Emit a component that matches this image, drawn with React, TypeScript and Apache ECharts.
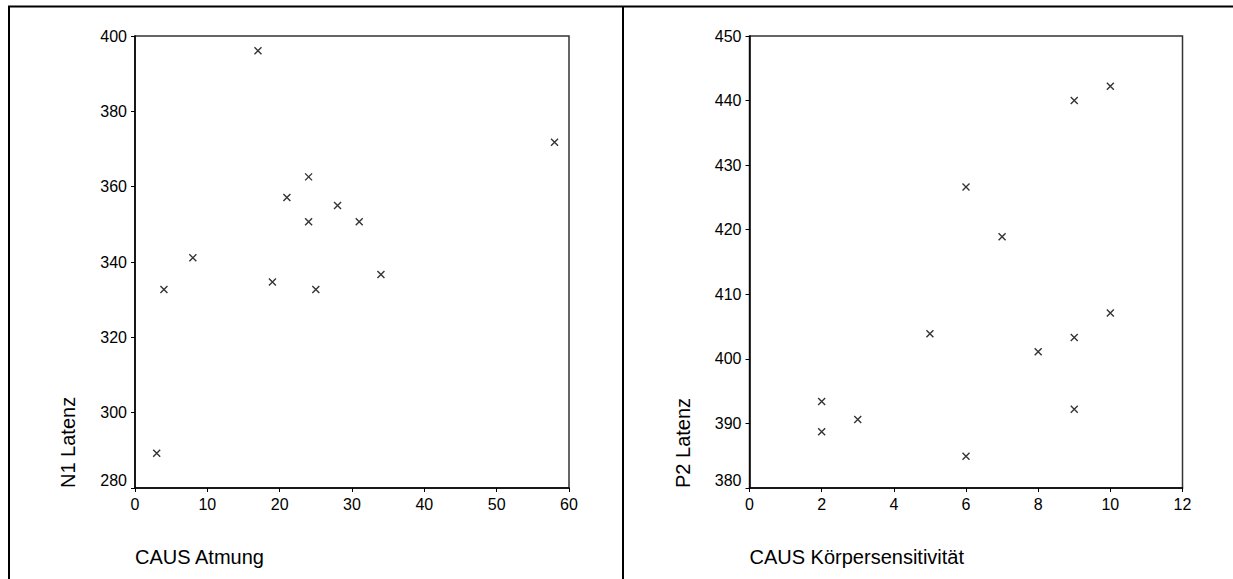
import React, { useEffect, useRef } from "react";
import * as echarts from "echarts";

// Left panel: CAUS Atmung vs N1 Latenz
const xAtmung = [17, 58, 24, 21, 28, 24, 31, 8, 34, 19, 4, 25, 3];
const yN1Latenz = [396.1, 371.8, 362.6, 357.1, 355.0, 350.7, 350.7, 341.1, 336.7, 334.7, 332.7, 332.7, 289.2];

// Right panel: CAUS Körpersensitivität vs P2 Latenz
const xKoerper = [6, 7, 9, 10, 10, 5, 9, 8, 2, 3, 2, 9, 6];
const yP2Latenz = [426.6, 418.9, 440.0, 442.2, 407.1, 403.9, 403.3, 401.1, 393.4, 390.6, 388.7, 392.2, 384.9];

const leftXTitle = "CAUS Atmung";
const leftYTitle = "N1 Latenz";
const rightXTitle = "CAUS Körpersensitivität";
const rightYTitle = "P2 Latenz";

const FONT = "'Liberation Sans', Arial, Helvetica, sans-serif";
const CROSS = "path://M0 0L10 10M10 0L0 10";

function valueAxis(min: number, max: number, interval: number, isX: boolean, gridIndex: number) {
  const label: any = { show: true, color: "#000", fontSize: 16, fontFamily: FONT, margin: 8 };
  if (!isX) {
    label.formatter = (v: number) => (v === min ? `{low|${v}}` : `${v}`);
    label.rich = { low: { color: "#000", fontSize: 16, fontFamily: FONT, padding: [0, 0, 16, 0] } };
  }
  return {
    type: "value",
    gridIndex,
    min,
    max,
    interval,
    axisLine: { show: true, onZero: false, lineStyle: { color: "#000", width: 1.5 } },
    axisTick: { show: true, inside: false, length: 4, lineStyle: { color: "#000", width: 1 } },
    axisLabel: label,
    splitLine: { show: false },
  };
}

export default function App() {
  const ref = useRef<HTMLDivElement>(null);
  useEffect(() => {
    if (!ref.current) return;
    const chart = echarts.init(ref.current, undefined, { renderer: "svg" });
    const pairs = (xs: number[], ys: number[]) => xs.map((x, i) => [x, ys[i]]);
    chart.setOption({
      animation: false,
      backgroundColor: "#fff",
      grid: [
        { left: 135, right: 1233 - 569, top: 36, bottom: 579 - 488, show: true, borderColor: "#333", borderWidth: 1.5, backgroundColor: "transparent" },
        { left: 749.5, right: 1233 - 1182.5, top: 36, bottom: 579 - 488, show: true, borderColor: "#333", borderWidth: 1.5, backgroundColor: "transparent" },
      ],
      xAxis: [valueAxis(0, 60, 10, true, 0), valueAxis(0, 12, 2, true, 1)],
      yAxis: [valueAxis(280, 400, 20, false, 0), valueAxis(380, 450, 10, false, 1)],
      series: [
        {
          type: "scatter",
          xAxisIndex: 0,
          yAxisIndex: 0,
          symbol: CROSS,
          symbolSize: 7,
          itemStyle: { color: "transparent", borderColor: "#000", borderWidth: 1.4 },
          data: pairs(xAtmung, yN1Latenz),
        },
        {
          type: "scatter",
          xAxisIndex: 1,
          yAxisIndex: 1,
          symbol: CROSS,
          symbolSize: 7,
          itemStyle: { color: "transparent", borderColor: "#000", borderWidth: 1.4 },
          data: pairs(xKoerper, yP2Latenz),
        },
      ],
      graphic: [
        { type: "line", shape: { x1: 8, y1: 6.5, x2: 1233, y2: 6.5 }, style: { stroke: "#000", lineWidth: 2 } },
        { type: "line", shape: { x1: 9, y1: 6, x2: 9, y2: 579 }, style: { stroke: "#000", lineWidth: 2 } },
        { type: "line", shape: { x1: 623, y1: 6, x2: 623, y2: 579 }, style: { stroke: "#000", lineWidth: 2 } },
        { type: "text", x: 135, y: 557, style: { text: leftXTitle, fill: "#000", font: `20px ${FONT}`, align: "left", verticalAlign: "middle" } },
        { type: "text", x: 749.5, y: 557, style: { text: rightXTitle, fill: "#000", font: `20px ${FONT}`, align: "left", verticalAlign: "middle" } },
        { type: "text", x: 68, y: 488, rotation: Math.PI / 2, style: { text: leftYTitle, fill: "#000", font: `20px ${FONT}`, align: "left", verticalAlign: "middle" } },
        { type: "text", x: 683, y: 488, rotation: Math.PI / 2, style: { text: rightYTitle, fill: "#000", font: `20px ${FONT}`, align: "left", verticalAlign: "middle" } },
      ],
    });
    return () => chart.dispose();
  }, []);
  return <div ref={ref} style={{ position: "absolute", left: 0, top: 0, width: 1233, height: 579 }} />;
}
